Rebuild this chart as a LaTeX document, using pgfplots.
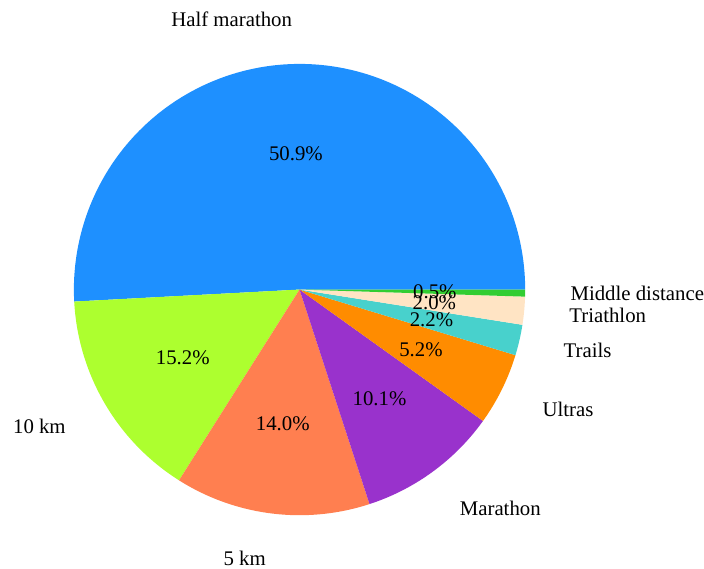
\documentclass[border=0pt]{standalone}
\usepackage{pgfplots}
\usepackage{pgfplotstable}
\pgfplotsset{compat=1.18}
\usepackage{fontspec}
\setmainfont{Liberation Serif}

\definecolor{cHM}{HTML}{1E90FF}
\definecolor{cTK}{HTML}{ADFF2F}
\definecolor{cFK}{HTML}{FF7F50}
\definecolor{cMA}{HTML}{9932CC}
\definecolor{cUL}{HTML}{FF8C00}
\definecolor{cTR}{HTML}{48D1CC}
\definecolor{cTI}{HTML}{FFE4C4}
\definecolor{cMD}{HTML}{32CD32}

\pgfplotstableread[col sep=comma]{
label,value,color
Half marathon,50.9,cHM
10 km,15.2,cTK
5 km,14.0,cFK
Marathon,10.1,cMA
Ultras,5.2,cUL
Trails,2.2,cTR
Triathlon,2.0,cTI
Middle distance,0.5,cMD
}\piedata

\begin{document}
\begin{tikzpicture}
% --- geometry of the slices from the table values ---
\pgfplotstablegetrowsof{\piedata}
\pgfmathtruncatemacro\nlast{\pgfplotsretval-1}
\gdef\pietotal{0}
\foreach \i in {0,...,\nlast}{%
  \pgfplotstablegetelem{\i}{value}\of\piedata
  \pgfmathsetmacro\tmp{\pietotal+\pgfplotsretval}%
  \global\let\pietotal\tmp
}
\gdef\piecum{0}
\foreach \i in {0,...,\nlast}{%
  \pgfplotstablegetelem{\i}{value}\of\piedata
  \let\v\pgfplotsretval
  \pgfmathsetmacro\s{\piecum/\pietotal*360}%
  \pgfmathsetmacro\c{\piecum+\v}%
  \pgfmathsetmacro\e{\c/\pietotal*360}%
  \pgfmathsetmacro\m{(\s+\e)/2}%
  \pgfmathsetmacro\lx{1.2*cos(\m)}%
  \pgfmathsetmacro\ly{1.2*sin(\m)}%
  \pgfmathsetmacro\px{0.6*cos(\m)}%
  \pgfmathsetmacro\py{0.6*sin(\m)}%
  \expandafter\xdef\csname pieS\i\endcsname{\s}%
  \expandafter\xdef\csname pieE\i\endcsname{\e}%
  \expandafter\xdef\csname pieLX\i\endcsname{\lx}%
  \expandafter\xdef\csname pieLY\i\endcsname{\ly}%
  \expandafter\xdef\csname piePX\i\endcsname{\px}%
  \expandafter\xdef\csname piePY\i\endcsname{\py}%
  \expandafter\xdef\csname pieV\i\endcsname{\v}%
  \ifdim\lx pt<0pt
    \expandafter\xdef\csname pieA\i\endcsname{east}%
  \else
    \expandafter\xdef\csname pieA\i\endcsname{west}%
  \fi
  \pgfplotstablegetelem{\i}{label}\of\piedata
  \expandafter\xdef\csname pieL\i\endcsname{\pgfplotsretval}%
  \pgfplotstablegetelem{\i}{color}\of\piedata
  \expandafter\xdef\csname pieC\i\endcsname{\pgfplotsretval}%
  \global\let\piecum\c
}
\begin{axis}[
  scale only axis,
  width=506.88pt, height=409.68pt,
  xmin=-1.3274, xmax=1.7876,
  ymin=-1.2345, ymax=1.2832,
  hide axis, clip=false,
]
\pgfplotsinvokeforeach{0,...,7}{%
  \addplot[fill=\csname pieC#1\endcsname, draw=none,
    domain=\csname pieS#1\endcsname:\csname pieE#1\endcsname, samples=120]
    ({cos(x)},{sin(x)}) -- (axis cs:0,0) -- cycle;
}
\pgfplotsinvokeforeach{0,...,7}{%
  \node[anchor=\csname pieA#1\endcsname, inner sep=0pt,
        font=\fontsize{15}{18}\selectfont]
    at (axis cs:\csname pieLX#1\endcsname,\csname pieLY#1\endcsname)
    {\csname pieL#1\endcsname};
  \node[inner sep=0pt, font=\fontsize{15}{18}\selectfont]
    at (axis cs:\csname piePX#1\endcsname,\csname piePY#1\endcsname)
    {\pgfmathprintnumber[fixed,fixed zerofill,precision=1,assume math mode=true]{\csname pieV#1\endcsname}\%};
}
\end{axis}
\path (current axis.south west) rectangle (current axis.north east);
\end{tikzpicture}
\end{document}
